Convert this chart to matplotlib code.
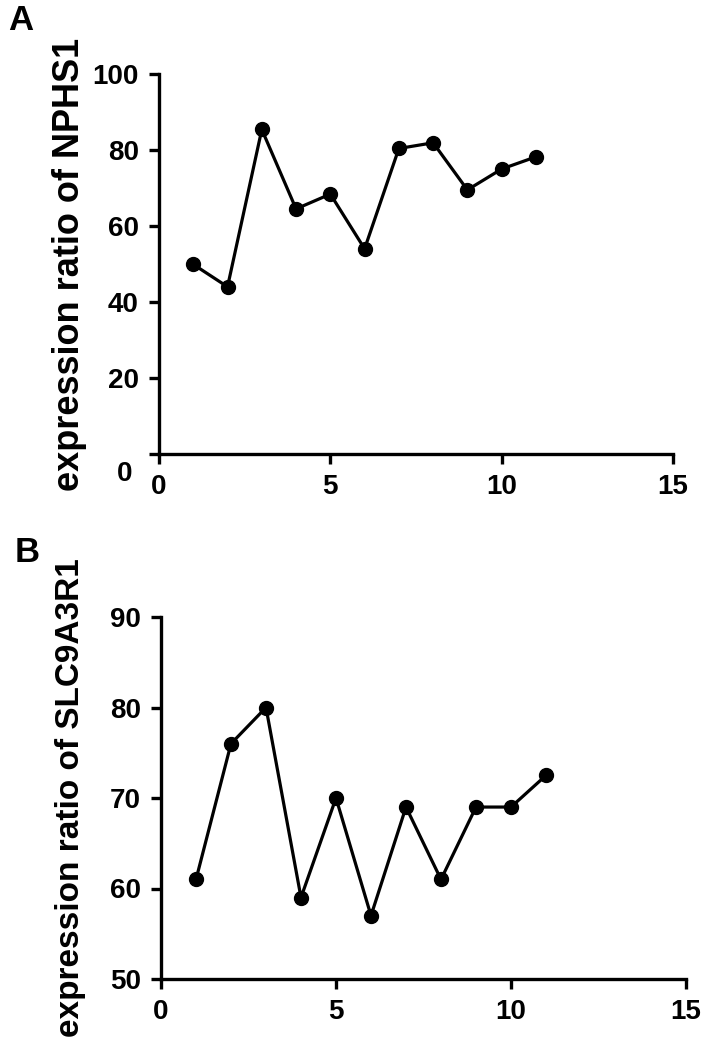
import matplotlib
matplotlib.use("Agg")
import matplotlib.pyplot as plt
import matplotlib.transforms as mtransforms

plt.rcParams['font.family'] = ['Liberation Sans', 'DejaVu Sans']
plt.rcParams['font.weight'] = 'bold'

# données
days = [1, 2, 3, 4, 5, 6, 7, 8, 9, 10, 11]
nphs1 = [49.9, 44.0, 85.4, 64.5, 68.4, 54.0, 80.4, 81.9, 69.5, 75.0, 78.2]
slc9a3r1 = [61.0, 76.0, 80.0, 59.0, 70.0, 57.0, 69.0, 61.0, 69.0, 69.0, 72.5]

xticks = [0, 5, 10, 15]
yticks_a = [0, 20, 40, 60, 80, 100]
yticks_b = [50, 60, 70, 80, 90]

fig = plt.figure(figsize=(7.08, 10.37), dpi=100)
ax_a = fig.add_axes([159 / 708, 1 - 454 / 1037, 514 / 708, 380 / 1037])
ax_b = fig.add_axes([161 / 708, 1 - 979 / 1037, 525 / 708, 362 / 1037])


def style_axis(ax, x, y, yticks, ylabel, label_size):
    ax.plot(x, y, color='black', lw=2.3, marker='o', markersize=10, clip_on=False, zorder=3)
    ax.set_xlim(0, 15)
    ax.set_ylim(yticks[0], yticks[-1])
    ax.set_xticks(xticks)
    ax.set_yticks(yticks)
    for s in ['top', 'right']:
        ax.spines[s].set_visible(False)
    for s in ['left', 'bottom']:
        ax.spines[s].set_linewidth(2.4)
    ax.tick_params(direction='out', length=7.5, width=2.4, labelsize=20, pad=7)
    for lab in ax.get_xticklabels() + ax.get_yticklabels():
        lab.set_fontweight('bold')
    ax.set_ylabel(ylabel, fontsize=label_size, fontweight='bold')


style_axis(ax_a, days, nphs1, yticks_a, 'expression ratio of NPHS1', 26)
style_axis(ax_b, days, slc9a3r1, yticks_b, 'expression ratio of SLC9A3R1', 24)

# le "0" de l'axe y décalé vers le bas (style GraphPad)
fig.canvas.draw()
zero_lab = ax_a.get_yticklabels()[0]
zero_lab.set_transform(zero_lab.get_transform() +
                       mtransforms.ScaledTranslation(-6 / 100, -17 / 100, fig.dpi_scale_trans))

ax_a.yaxis.set_label_coords(-(159 - 70) / 514, 0.5)
ax_b.yaxis.set_label_coords(-(161 - 71) / 525, 0.5)
ax_a.yaxis.label.set_va('center')
ax_b.yaxis.label.set_va('center')

fig.text(8 / 708, 1 - 21 / 1037, 'A', fontsize=25, fontweight='bold', va='center', ha='left')
fig.text(15 / 708, 1 - 553 / 1037, 'B', fontsize=25, fontweight='bold', va='center', ha='left')

fig.savefig('out.png', dpi=100)
